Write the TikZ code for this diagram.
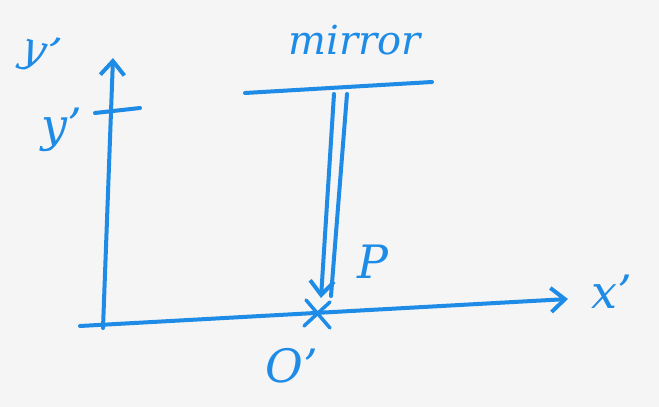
\documentclass[tikz,border=0pt]{standalone}
\usepackage{fontspec}
\setmainfont{DejaVu Serif}
\usetikzlibrary{arrows.meta,calc}
\definecolor{ink}{RGB}{30,140,230}
\begin{document}
\begin{tikzpicture}[x=1pt,y=-1pt,
  pen/.style={draw=ink,line width=4pt,line cap=round,line join=round},
  lbl/.style={text=ink,font=\fontsize{46}{46}\selectfont\itshape,inner sep=0pt},
  tip/.style={-{Straight Barb[length=14pt,width=24pt,line width=4pt]}}]
\fill[white!96!black] (0,0) rectangle (659,407);
\useasboundingbox (0,0) rectangle (659,407);
% coordinates
\coordinate (ybot) at (103,328);
\coordinate (ytop) at (113,58);
\coordinate (tickL) at (95,113);
\coordinate (tickR) at (140,108);
\coordinate (xleft) at (80,326);
\coordinate (xright) at (568,299);
\coordinate (mL) at (245,93);
\coordinate (mR) at (432,82);
\coordinate (o) at (318,314);
\coordinate (a1) at (334,94);
\coordinate (a2) at (321,298);
\coordinate (b1) at (347,94);
\coordinate (b2) at (331,296);
% axes
\draw[pen,tip] (ybot) -- (ytop);
\draw[pen] (tickL) -- (tickR);
\draw[pen,tip] (xleft) -- (xright);
% mirror
\draw[pen] (mL) -- (mR);
\draw[pen,tip] (a1) -- (a2);
\draw[pen] (b1) -- (b2);
% origin cross
\draw[pen,line width=3.5pt] ($(o)+(-12,-14)$) -- ($(o)+(12,14)$);
\draw[pen,line width=3.5pt] ($(o)+(-14,12)$) -- ($(o)+(12,-12)$);
% labels
\node[lbl,rotate=-15,font=\fontsize{42}{42}\selectfont\itshape] (ylab1) at (40,54) {y'};
\node[lbl] (ylab2) at (62,130) {y'};
\node[lbl] (xlab) at (612,292) {x'};
\node[lbl,font=\fontsize{40}{40}\selectfont\itshape] (mirror) at (355,40) {mirror};
\node[lbl] (P) at (373,262) {P};
\node[lbl] (O) at (292,366) {O'};
\end{tikzpicture}
\end{document}
